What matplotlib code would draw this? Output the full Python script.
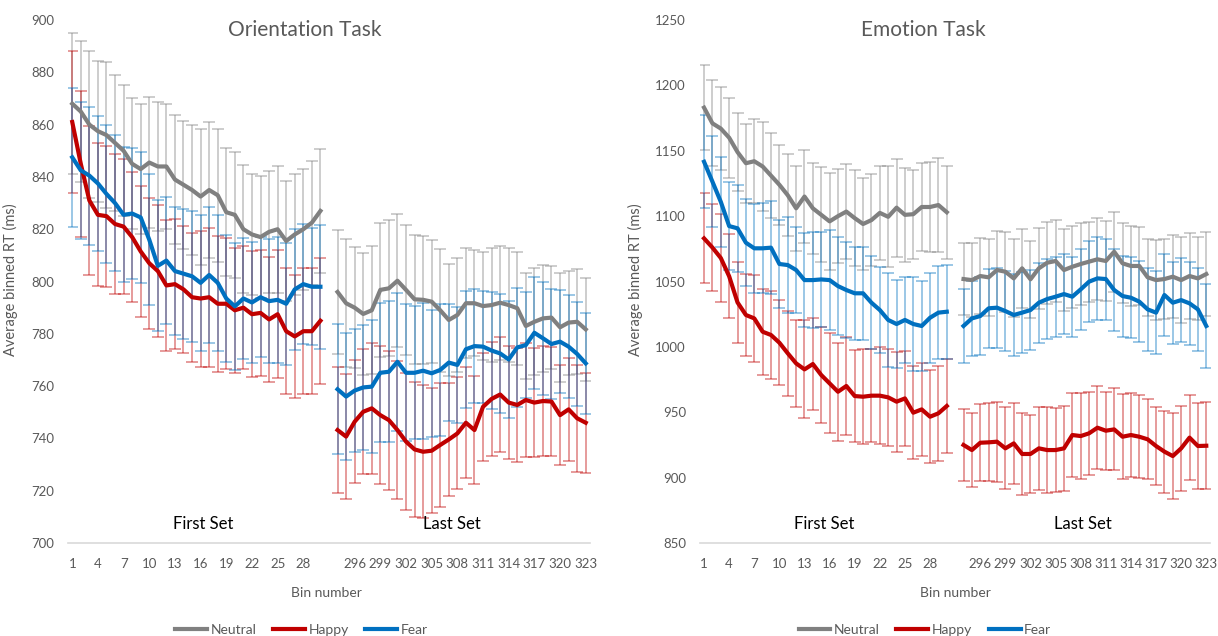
import numpy as np
import matplotlib
matplotlib.use("Agg")
import matplotlib.pyplot as plt

plt.rcParams['font.family'] = ['Lato', 'DejaVu Sans']

# bins shown on the x axis: first 30 bins, an empty slot, then the last 30 bins
first_bins = list(range(1, 31))
last_bins = list(range(294, 324))
categories = [str(b) for b in first_bins] + [''] + [str(b) for b in last_bins]

series_names = ['Neutral', 'Happy', 'Fear']

# Orientation task, first set
neutral_o1 = [868, 865, 860, 857.5, 856, 853, 850, 845, 843, 845.5, 844, 844, 839, 837, 835,
              832.5, 835, 833, 826.5, 825.5, 820, 818, 817, 819, 820, 815.5, 818, 820, 822.5, 827]
neutral_o1_err = [27, 27, 28, 27, 28, 26, 25, 25, 25, 25, 24.5, 24, 24.5, 24.5, 25,
                  26, 26, 25.5, 24.5, 24, 24.5, 23, 23.3, 23.4, 24.3, 23, 23.2, 23.2, 23.7, 23.7]
happy_o1 = [861, 845, 831, 825.5, 825, 822, 821, 817, 811.5, 807, 804, 798.5, 799, 797, 794,
            793.5, 794, 791.5, 791.5, 789, 790, 787.5, 788, 785.5, 787.5, 781, 779, 781, 781, 785]
happy_o1_err = [27, 28, 28.5, 27.4, 27, 26.7, 25.8, 25, 25, 25, 25.3, 25.2, 24.8, 24.2, 24.6,
                26, 26.5, 26, 25, 24, 23.6, 24, 24.2, 24, 24.4, 24, 23.5, 24, 24, 24]
fear_o1 = [847.5, 842.5, 840.5, 837.5, 833.5, 830, 825.5, 826, 824.5, 816, 806, 808, 804, 803, 802,
           799.5, 802.5, 799.5, 793.5, 790.5, 793.5, 792, 794, 792.5, 793, 791.5, 797, 799, 798, 798]
fear_o1_err = [26.5, 26.2, 26.4, 25.8, 26.4, 25.9, 25.8, 24.9, 25.1, 25, 25, 24.4, 24.5, 24.8, 25,
               26, 26, 26, 24.3, 24.3, 23, 23, 23, 23.6, 24, 23.3, 23, 23, 22.4, 23.8]

# Orientation task, last set
neutral_o2 = [796, 791.7, 790, 787.6, 789, 796.8, 797.4, 800.3, 796.8, 793.2, 793, 792.3, 789, 785.3, 787.2,
              791.7, 791.7, 790.6, 791, 791.9, 791, 789.8, 783, 784.6, 785.9, 786.2, 782.5, 784.3, 784.6, 781.7]
neutral_o2_err = [23.6, 24.5, 23.2, 23.4, 24.4, 25.5, 26, 25.4, 25, 24.6, 24.5, 23.6, 23.6, 21.3, 21.7,
                  21, 20.3, 20.8, 21.7, 21.8, 21.7, 21.6, 20.1, 20.4, 20.4, 19.8, 20.9, 19.9, 20.1, 19.8]
happy_o2 = [743.2, 740.7, 746.4, 750.2, 751.5, 748.9, 747, 743.2, 738.8, 735.8, 734.9, 735.3, 737.5, 739.6, 741.9,
            746, 743.2, 752.1, 755.1, 756.8, 753.7, 752.8, 754.7, 753.7, 754.3, 754.1, 748.9, 751.1, 747.7, 746]
happy_o2_err = [24, 24, 23.5, 23.9, 25.1, 26.4, 26.6, 26.4, 26.2, 25.7, 25.5, 23.9, 23.6, 21.6, 21.4,
                21.3, 20.8, 20.6, 21.7, 21.9, 21.6, 21.9, 21.7, 20.7, 20.9, 20.7, 19.1, 19.6, 20.4, 19.1]
fear_o2 = [758.8, 756, 758.3, 759.5, 759.8, 765.1, 765.5, 769.3, 765.1, 765.1, 765.9, 764.9, 766.2, 769, 768.1,
           774.1, 775.3, 775.1, 773.6, 772.5, 770.2, 774.8, 775.7, 780.4, 778.3, 776.1, 777, 775.1, 772.3, 768.7]
fear_o2_err = [24.8, 24.2, 23.4, 23.9, 25.5, 26.6, 27, 26.4, 26.2, 25.5, 26, 24.2, 25.2, 22.4, 22.3,
               22.4, 21.7, 21.4, 22.5, 22.6, 22.3, 22.6, 20.4, 21.5, 21.6, 20.9, 19.8, 19.7, 20, 19.4]

# Emotion task, first set
neutral_e1 = [1183, 1171, 1167, 1160, 1149, 1140.5, 1142, 1138, 1131, 1124, 1116, 1106, 1115, 1106, 1101,
              1096, 1100, 1103.5, 1098.5, 1094, 1097, 1102.5, 1099.5, 1106.5, 1101, 1101.5, 1107, 1107, 1108.5, 1103]
neutral_e1_err = [32.6, 33, 31.4, 30.6, 29.8, 30.1, 32, 33.7, 32.6, 30.6, 31.3, 32.3, 35.7, 34.9, 36.4,
                  37, 35.7, 36.5, 37, 35, 35.2, 35.7, 38.7, 37.5, 35.7, 34, 34, 34.4, 35.7, 35.4]
happy_e1 = [1083, 1076, 1068, 1054, 1034, 1024.4, 1021.8, 1011.6, 1009.1, 1003.2, 995.1, 987.4, 982.8, 986.9, 978.5,
            972.1, 965.7, 970.1, 962.4, 961.9, 962.7, 962.7, 961.4, 958.1, 960.6, 949.7, 952.2, 946.6, 949.2, 954.8]
happy_e1_err = [34.5, 33, 34, 32, 31, 31, 33.5, 33, 33.5, 32.4, 32.7, 33.1, 37.5, 35.2, 36.5,
                38.2, 37.4, 37.5, 35.4, 36.2, 35.7, 37, 37, 38.3, 36.2, 35.5, 35.4, 35.7, 36.5, 35.7]
fear_e1 = [1141.6, 1126.4, 1111, 1092.4, 1090.7, 1079.7, 1075.4, 1075.4, 1075.9, 1063.4, 1062.6, 1058.8, 1051.1, 1051.1, 1051.6,
           1051.1, 1046.5, 1043.5, 1041, 1041, 1033.8, 1028.2, 1020.6, 1017.5, 1020.6, 1017.5, 1016, 1022.3, 1026.2, 1026.9]
fear_e1_err = [35.6, 35, 34.4, 33.6, 33.2, 33.2, 33.9, 34.4, 35.5, 33.9, 36.4, 33.1, 35.7, 36.9, 36.2,
               38.2, 37.4, 37, 35.7, 35.7, 35.7, 33.2, 35.7, 33.9, 33.2, 35.7, 34.2, 34.4, 35.7, 35.9]

# Emotion task, last set
neutral_e2 = [1051.9, 1051.1, 1054.2, 1053.2, 1058.8, 1057.5, 1052.4, 1060.1, 1051.7, 1060.1, 1064.4, 1065.7, 1058.8, 1061.3, 1063.4,
              1065.2, 1067, 1065.7, 1072.8, 1063.9, 1061.9, 1061.9, 1053.2, 1051.1, 1051.9, 1053.7, 1051.1, 1054.2, 1052.4, 1055.7]
neutral_e2_err = [27.3, 28, 29.3, 29.3, 29.8, 30.6, 29.8, 30.1, 29.3, 31.1, 31.4, 31.4, 31.1, 31.4, 31.1,
                  30.6, 31.4, 30.8, 30.6, 30.6, 30.8, 30.1, 29.3, 30.6, 30.6, 31.9, 32.6, 32.6, 31.9, 31.9]
happy_e2 = [925, 921.1, 926.7, 927, 927.5, 922.4, 926.2, 918.1, 918.1, 922.4, 921.1, 921.1, 922.4, 932.6, 931.8,
            933.9, 938.2, 935.9, 936.9, 931.3, 932.6, 931.3, 929.3, 924.2, 919.9, 916.5, 922.4, 930.6, 924.2, 924.4]
happy_e2_err = [27.3, 28, 29.6, 29.8, 30.6, 31.4, 31.1, 31.1, 29.8, 31.9, 32.6, 31.9, 32.4, 32.4, 32.6,
                31.9, 31.9, 29.8, 31.4, 32.6, 31.9, 31.9, 30.6, 30.1, 31.4, 32.6, 32.6, 32.6, 32.6, 33.1]
fear_e2 = [1016, 1021.8, 1023.6, 1029.5, 1030, 1027.4, 1024.4, 1026.2, 1028.2, 1033.8, 1036.6, 1038.4, 1040.4, 1038.4, 1044,
           1049.9, 1052.4, 1051.9, 1043.5, 1038.9, 1037.6, 1034.6, 1028.7, 1026.2, 1039.7, 1033.8, 1035.8, 1033.3, 1028.7, 1016]
fear_e2_err = [28, 28.5, 29.5, 30, 30.5, 30.3, 31, 31, 30.5, 30.5, 30.5, 30.5, 30.5, 30.5, 31,
               31, 31.5, 31, 31.5, 31, 31, 31, 31.5, 31.5, 31.5, 31.5, 32, 32, 32, 32.4]

COLORS = {'Neutral': '#808080', 'Happy': '#C00000', 'Fear': '#0070C0'}
TEXT_GRAY = '#595959'


def join_sets(first, last):
    # nan in the empty slot breaks the line between the two sets
    return np.array(list(first) + [np.nan] + list(last), dtype=float)


def draw_panel(ax, data, ylim, yticks, first_x, last_x):
    x = np.arange(len(categories))
    lines = []
    for name in series_names:
        mean, err = data[name]
        ax.errorbar(x, mean, yerr=err, fmt='none', ecolor=COLORS[name], alpha=0.5,
                    elinewidth=1.1, capsize=4, capthick=1.1, zorder=1)
    for name in series_names:
        mean, err = data[name]
        ln, = ax.plot(x, mean, color=COLORS[name], lw=3, solid_joinstyle='round',
                      label=name, zorder=3)
        lines.append(ln)

    ax.set_xlim(-0.5, len(categories) - 0.5)
    ax.set_ylim(*ylim)
    ax.set_yticks(yticks)
    ax.set_xticks(x[::3])
    ax.set_xticklabels(categories[::3])
    ax.tick_params(axis='both', length=0, labelsize=9.5, labelcolor=TEXT_GRAY)
    ax.tick_params(axis='x', pad=11)
    ax.tick_params(axis='y', pad=10)
    for side in ['top', 'right', 'left']:
        ax.spines[side].set_visible(False)
    ax.spines['bottom'].set_color('#D9D9D9')
    ax.spines['bottom'].set_linewidth(1.2)

    ax.set_xlabel('Bin number', fontsize=10, color=TEXT_GRAY)
    ax.set_ylabel('Average binned RT (ms)', fontsize=10.5, color=TEXT_GRAY)

    trans = ax.get_xaxis_transform()
    ax.text(first_x, 0.036, 'First Set', transform=trans, ha='center', va='center',
            fontsize=12, color='black')
    ax.text(last_x, 0.036, 'Last Set', transform=trans, ha='center', va='center',
            fontsize=12, color='black')
    return lines


def main():
    fig = plt.figure(figsize=(12.18, 6.36), dpi=100)
    ax1 = fig.add_axes([0.0558, 0.1462, 0.4286, 0.8223])
    ax2 = fig.add_axes([0.5746, 0.1462, 0.4192, 0.8223])

    orient = {
        'Neutral': (join_sets(neutral_o1, neutral_o2), join_sets(neutral_o1_err, neutral_o2_err)),
        'Happy': (join_sets(happy_o1, happy_o2), join_sets(happy_o1_err, happy_o2_err)),
        'Fear': (join_sets(fear_o1, fear_o2), join_sets(fear_o1_err, fear_o2_err)),
    }
    emotion = {
        'Neutral': (join_sets(neutral_e1, neutral_e2), join_sets(neutral_e1_err, neutral_e2_err)),
        'Happy': (join_sets(happy_e1, happy_e2), join_sets(happy_e1_err, happy_e2_err)),
        'Fear': (join_sets(fear_e1, fear_e2), join_sets(fear_e1_err, fear_e2_err)),
    }

    lines1 = draw_panel(ax1, orient, (700, 900), range(700, 901, 20), 15.3, 44.4)
    lines2 = draw_panel(ax2, emotion, (850, 1250), range(850, 1251, 50), 14.3, 45.3)

    # titles sit over the whole chart area, not just the plot area
    fig.text(305 / 1218, 1 - 30 / 636, 'Orientation Task', ha='center', va='center',
             fontsize=15, color=TEXT_GRAY)
    fig.text(923 / 1218, 1 - 30 / 636, 'Emotion Task', ha='center', va='center',
             fontsize=15, color=TEXT_GRAY)

    ax1.xaxis.set_label_coords(0.496, -0.084)
    ax2.xaxis.set_label_coords(0.5, -0.084)
    ax1.yaxis.set_label_coords(-0.096, 0.503)
    ax2.yaxis.set_label_coords(-0.111, 0.503)

    for ax, lines, cx in [(ax1, lines1, 0.2475), (ax2, lines2, 0.7594)]:
        leg = ax.legend(handles=lines, loc='center', bbox_to_anchor=(cx, 0.009),
                        bbox_transform=fig.transFigure, ncol=3, frameon=False,
                        fontsize=10, handlelength=2.3, handletextpad=0.25,
                        columnspacing=1.2, borderpad=0)
        for t in leg.get_texts():
            t.set_color(TEXT_GRAY)

    fig.savefig('out.png', dpi=100)
    plt.close(fig)


if __name__ == "__main__":
    main()
